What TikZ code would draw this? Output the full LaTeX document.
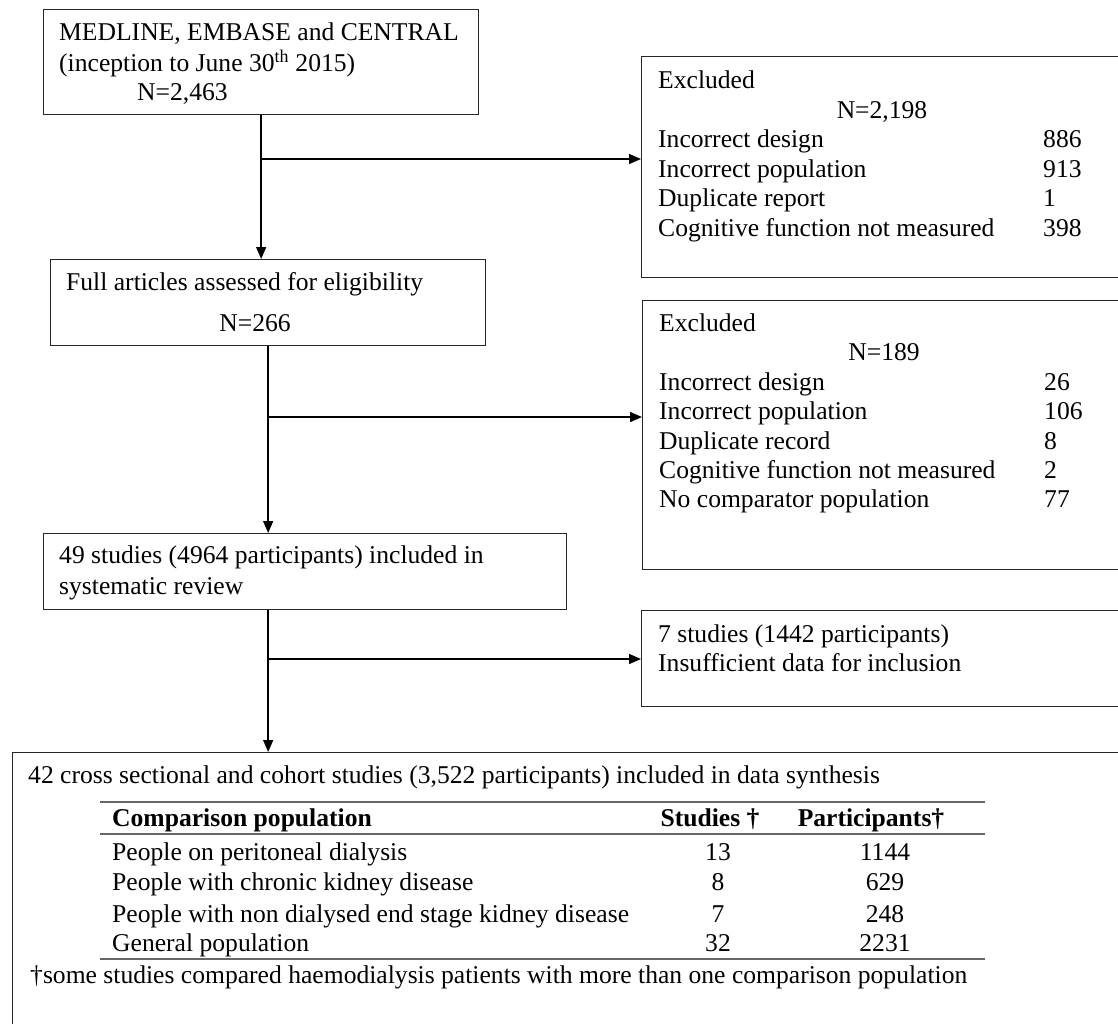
\documentclass[tikz,border=0pt]{standalone}
\usepackage{fontspec}
\setmainfont{Liberation Serif}
\usepackage{tikz}
\usetikzlibrary{arrows.meta,positioning}
\newcommand\rowgap{29.6}
\tikzset{flowbox/.style={rectangle, draw=black!85, line width=1.3pt, anchor=north west, inner sep=0pt}}
\tikzset{boxtext/.style={anchor=west, inner sep=0pt, font=\fontsize{25.6}{29.5}\selectfont, text height=20pt, text depth=2.5pt}}
\tikzset{tabtext/.style={boxtext}}
\tikzset{tabnum/.style={tabtext, anchor=center}}
\tikzset{tabrule/.style={draw=black!60, line width=2pt}}
\tikzset{arrow/.style={line width=1.4pt, -{Triangle[length=12pt,width=10pt]}}}

\begin{document}
\begin{tikzpicture}[x=1pt,y=-1pt]
\useasboundingbox (0,0) rectangle (1118,1023);
% boxes
\node[flowbox, minimum width=435pt, minimum height=105pt] (search) at (43,9) {};
\node[flowbox, minimum width=435pt, minimum height=86pt] (fulltext) at (50,259) {};
\node[flowbox, minimum width=523pt, minimum height=76pt] (review) at (43,533) {};
\node[flowbox, minimum width=490pt, minimum height=221pt] (excla) at (641,56) {};
\node[flowbox, minimum width=490pt, minimum height=269pt] (exclb) at (642,300) {};
\node[flowbox, minimum width=490pt, minimum height=96pt] (nodata) at (641,610) {};
\node[flowbox, minimum width=1118pt, minimum height=290pt] (synth) at (12,752) {};

% texts of the left column
\node[boxtext] (srcA) at (59,32) {MEDLINE, EMBASE and CENTRAL};
\node[boxtext] (srcB) at (59,63) {(inception to June 30\textsuperscript{th} 2015)};
\node[boxtext] (srcN) at (137,92) {N=2,463};
\node[boxtext] (fullA) at (66,282) {Full articles assessed for eligibility};
\node[boxtext, anchor=center] (fullN) at (255,323) {N=266};
\node[boxtext] (revA) at (59,555) {49 studies (4964 participants) included in};
\node[boxtext] (revB) at (59,586) {systematic review};

% first exclusion box
\node[boxtext] (exaT) at (658,80) {Excluded};
\node[boxtext, anchor=center] (exaN) at (882,110) {N=2,198};
\foreach \lbl/\num [count=\i from 0] in {Incorrect design/886, Incorrect population/913, Duplicate report/1, Cognitive function not measured/398} {
	\node[boxtext] (exa\i) at (658,139+\rowgap*\i) {\lbl};
	\node[boxtext] (exaNum\i) at (1043,139+\rowgap*\i) {\num};
}

% second exclusion box
\node[boxtext] (exbT) at (659,323) {Excluded};
\node[boxtext, anchor=center] (exbN) at (884,352) {N=189};
\foreach \lbl/\num [count=\i from 0] in {Incorrect design/26, Incorrect population/106, Duplicate record/8, Cognitive function not measured/2, No comparator population/77} {
	\node[boxtext] (exb\i) at (659,382+29.2*\i) {\lbl};
	\node[boxtext] (exbNum\i) at (1044,382+29.2*\i) {\num};
}

\node[boxtext] (ndA) at (658,634) {7 studies (1442 participants)};
\node[boxtext] (ndB) at (658,663) {Insufficient data for inclusion};

% data synthesis box with table
\node[tabtext] (synA) at (28,775) {42 cross sectional and cohort studies (3,522 participants) included in data synthesis};
\coordinate (ruleL) at (100,0);
\coordinate (ruleR) at (985,0);
\coordinate (ruletop) at (0,802);
\coordinate (rulemid) at (0,834);
\coordinate (rulebot) at (0,959);
\draw[tabrule] (ruleL |- ruletop) -- (ruleR |- ruletop);
\draw[tabrule] (ruleL |- rulemid) -- (ruleR |- rulemid);
\draw[tabrule] (ruleL |- rulebot) -- (ruleR |- rulebot);
\node[tabtext] (hdPop) at (112,818) {\textbf{Comparison population}};
\node[tabnum] (hdStud) at (710,818) {\textbf{Studies †}};
\node[tabnum] (hdPart) at (871,818) {\textbf{Participants†}};
\foreach \pop/\st/\pa/\yy [count=\i from 0] in {People on peritoneal dialysis/13/1144/852, People with chronic kidney disease/8/629/882, People with non dialysed end stage kidney disease/7/248/914, General population/32/2231/943} {
	\node[tabtext] (pop\i) at (112,\yy) {\pop};
	\node[tabnum] (stud\i) at (718,\yy) {\st};
	\node[tabnum] (part\i) at (885,\yy) {\pa};
}
\node[tabtext] (foot) at (30,975) {†some studies compared haemodialysis patients with more than one comparison population};

% connectors
\coordinate (brA) at (0,159);
\coordinate (brB) at (0,417);
\coordinate (brC) at (0,659);
\draw[arrow] (search.south) -- (search.south |- fulltext.north);
\draw[arrow] (search.south |- brA) -- (excla.west |- brA);
\draw[arrow] (fulltext.south) -- (fulltext.south |- review.north);
\draw[arrow] (fulltext.south |- brB) -- (exclb.west |- brB);
\draw[arrow] (fulltext.south |- review.south) -- (fulltext.south |- synth.north);
\draw[arrow] (fulltext.south |- brC) -- (nodata.west |- brC);
\end{tikzpicture}
\end{document}
